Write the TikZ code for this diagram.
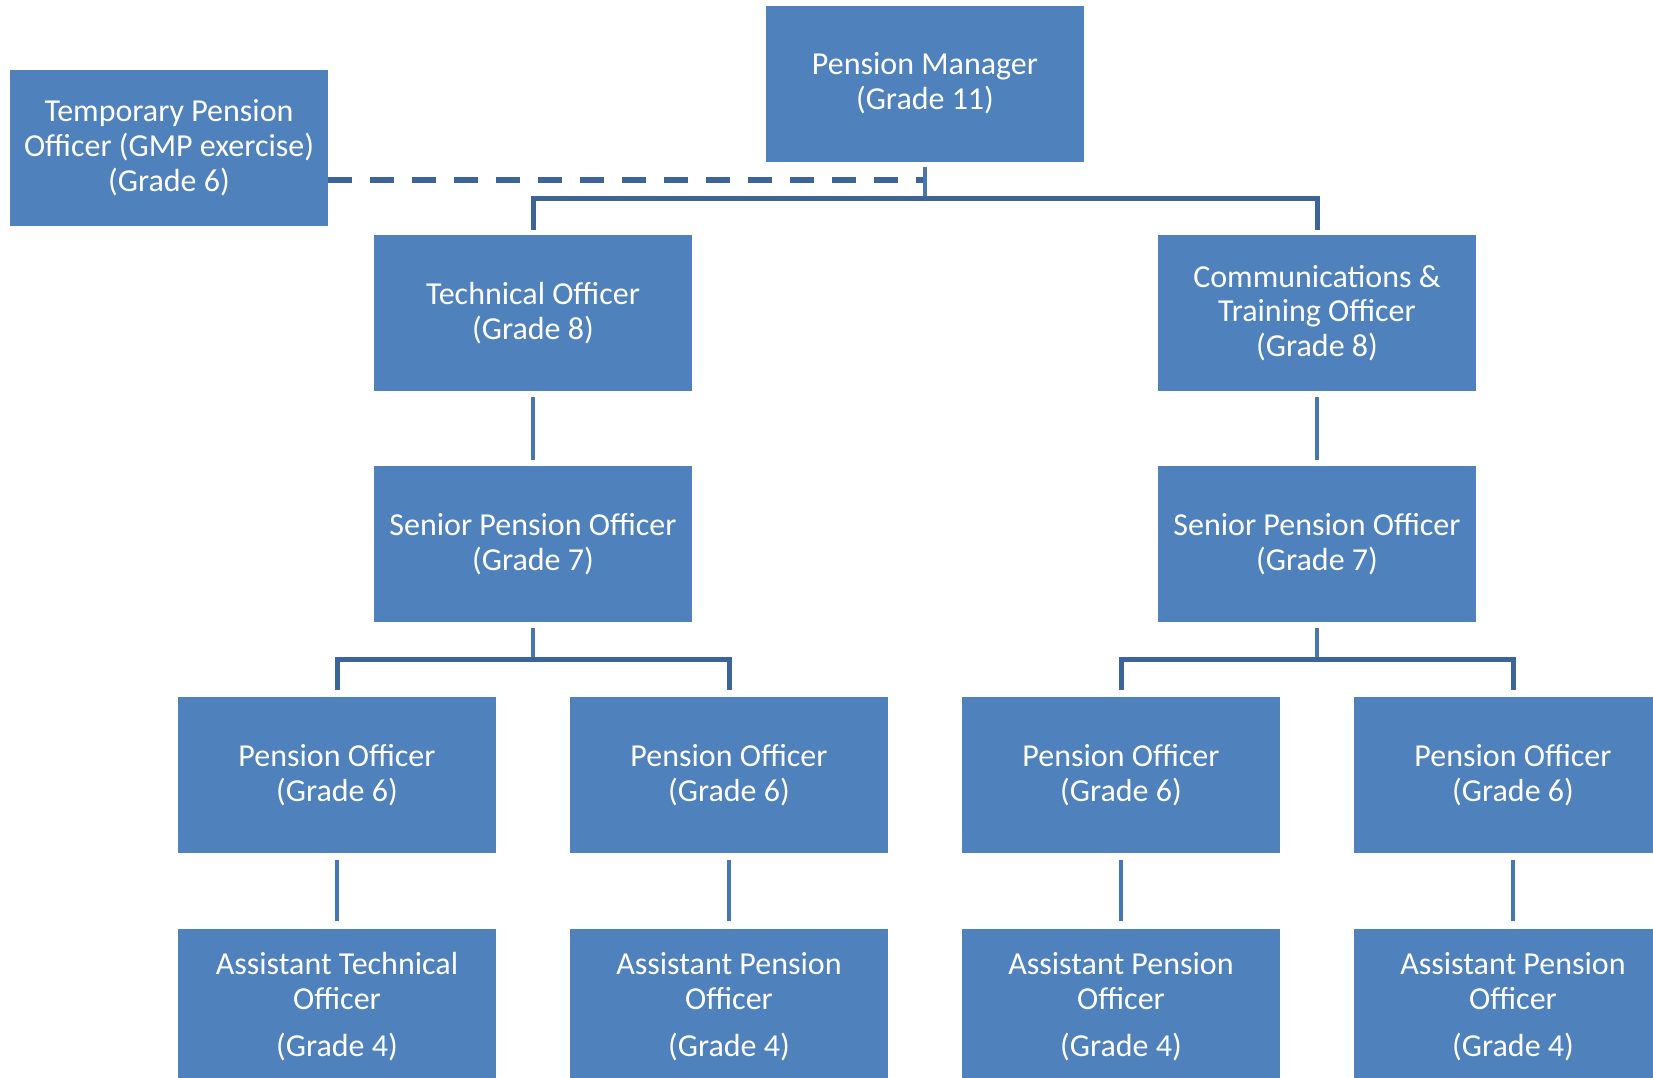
\documentclass[tikz,border=0pt]{standalone}
\usepackage{fontspec}
\setmainfont{Carlito}
\usetikzlibrary{positioning}
\definecolor{boxblue}{RGB}{79,129,189}
\definecolor{linkblue}{RGB}{72,118,178}
\definecolor{busblue}{RGB}{60,100,152}
\tikzstyle{post} = [rectangle, minimum width=238.5pt, minimum height=117pt, inner sep=0pt, align=center, text=white, fill=boxblue, font=\fontsize{24}{26.1}\selectfont]
\tikzstyle{link} = [line width=3.4pt, draw=linkblue]
\tikzstyle{bus} = [line width=3.75pt, draw=busblue, line join=miter]
\tikzstyle{dashlink} = [line width=4.2pt, draw=busblue, dash pattern=on 18pt off 13.5pt]

\begin{document}
\begin{tikzpicture}[x=0.75pt, y=-0.75pt, node distance=56pt]

    \useasboundingbox (0,0) rectangle (1653,1078);

    % Nodes
    \node (mgr) [post] at (925,83.5) {Pension Manager\\(Grade 11)};
    \node (temp) [post] at (169,147.5) {Temporary Pension\\Officer (GMP exercise)\\(Grade 6)};
    \node (tech) [post] at (533,313) {Technical Officer\\(Grade 8)};
    \node (comm) [post] at (1317,313) {Communications \&\\Training Officer\\(Grade 8)};
    \node (sen1) [post, below=of tech] {Senior Pension Officer\\(Grade 7)};
    \node (sen2) [post, below=of comm] {Senior Pension Officer\\(Grade 7)};
    \node (po1) [post, below=of sen1, xshift=-147pt] {Pension Officer\\(Grade 6)};
    \node (po2) [post, below=of sen1, xshift=147pt] {Pension Officer\\(Grade 6)};
    \node (po3) [post, below=of sen2, xshift=-147pt] {Pension Officer\\(Grade 6)};
    \node (po4) [post, below=of sen2, xshift=147pt] {Pension Officer\\(Grade 6)};
    \node (ast1) [post, below=of po1] {Assistant Technical\\Officer\\[8.7pt](Grade 4)};
    \node (ast2) [post, below=of po2] {Assistant Pension\\Officer\\[8.7pt](Grade 4)};
    \node (ast3) [post, below=of po3] {Assistant Pension\\Officer\\[8.7pt](Grade 4)};
    \node (ast4) [post, below=of po4] {Assistant Pension\\Officer\\[8.7pt](Grade 4)};

    % Lines
    \draw [dashlink] ([yshift=-24.4pt]temp.east) -- ([yshift=-24.4pt]temp.east -| mgr.south);
    \draw [link] ([yshift=-3.75pt]mgr.south) -- ([yshift=-29.5pt]mgr.south);
    \draw [bus] ([yshift=3.75pt]tech.north) |- ([yshift=-27.4pt]mgr.south) -| ([yshift=3.75pt]comm.north);
    \draw [link] ([yshift=-4.5pt]tech.south) -- ([yshift=4.5pt]sen1.north);
    \draw [link] ([yshift=-4.5pt]comm.south) -- ([yshift=4.5pt]sen2.north);
    \draw [link] ([yshift=-4pt]sen1.south) -- ([yshift=-28pt]sen1.south);
    \draw [link] ([yshift=-4pt]sen2.south) -- ([yshift=-28pt]sen2.south);
    \draw [bus] ([yshift=5.25pt]po1.north) |- ([yshift=-28pt]sen1.south) -| ([yshift=5.25pt]po2.north);
    \draw [bus] ([yshift=5.25pt]po3.north) |- ([yshift=-28pt]sen2.south) -| ([yshift=5.25pt]po4.north);
    \draw [link] ([yshift=-4.5pt]po1.south) -- ([yshift=5.25pt]ast1.north);
    \draw [link] ([yshift=-4.5pt]po2.south) -- ([yshift=5.25pt]ast2.north);
    \draw [link] ([yshift=-4.5pt]po3.south) -- ([yshift=5.25pt]ast3.north);
    \draw [link] ([yshift=-4.5pt]po4.south) -- ([yshift=5.25pt]ast4.north);

\end{tikzpicture}
\end{document}
